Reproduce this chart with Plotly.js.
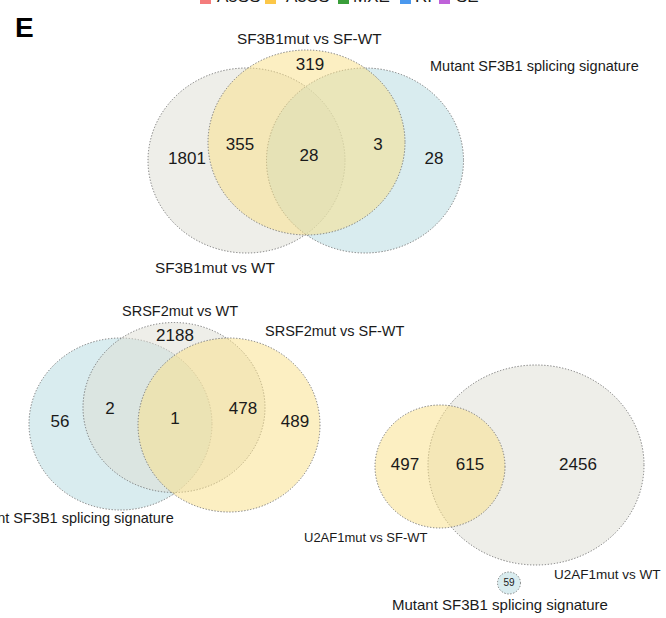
<!DOCTYPE html>
<html>
<head>
<meta charset="utf-8">
<script src="https://cdn.plot.ly/plotly-3.0.1.min.js"></script>
<style>html,body{margin:0;padding:0;background:#fff;}#chart{width:666px;height:618px;}</style>
</head>
<body>
<div id="chart"></div>
<script>
// ---------------- DATA ----------------
const legendLabels = ['A5SS', 'A3SS', 'MXE', 'RI', 'SE'];
const legendColors = ['#F47C7C', '#FCC748', '#3A9E3A', '#4A98EE', '#BF62D9'];

const panelLetter = 'E';

// Panel 1: SF3B1
const sf3b1Sets = ['SF3B1mut vs WT', 'SF3B1mut vs SF-WT', 'Mutant SF3B1 splicing signature'];
const sf3b1Regions = ['WT only', 'WT & SF-WT', 'SF-WT only', 'all three', 'SF-WT & signature', 'signature only'];
const sf3b1Counts = [1801, 355, 319, 28, 3, 28];

// Panel 2: SRSF2
const srsf2Sets = ['Mutant SF3B1 splicing signature', 'SRSF2mut vs WT', 'SRSF2mut vs SF-WT'];
const srsf2Regions = ['signature only', 'signature & WT', 'WT only', 'all three', 'WT & SF-WT', 'SF-WT only'];
const srsf2Counts = [56, 2, 2188, 1, 478, 489];

// Panel 3: U2AF1
const u2af1Sets = ['U2AF1mut vs SF-WT', 'U2AF1mut vs WT', 'Mutant SF3B1 splicing signature'];
const u2af1Regions = ['SF-WT only', 'SF-WT & WT', 'WT only', 'signature only'];
const u2af1Counts = [497, 615, 2456, 59];

// ---------------- GEOMETRY / STYLE (pixel space) ----------------
const FILL = {
  gray: 'rgba(222,222,212,0.5)',
  yellow: 'rgba(250,224,138,0.52)',
  blue: 'rgba(186,220,226,0.55)'
};
const EDGE = 'rgba(110,110,110,0.9)';
const DASH = '1.3px,1.7px';

const panels = [
  {
    sets: sf3b1Sets, counts: sf3b1Counts,
    ellipses: [
      {cx: 246.5, cy: 160.5, rx: 98.5, ry: 92.5, fill: 'gray'},
      {cx: 365, cy: 160.5, rx: 98.5, ry: 92.5, fill: 'blue'},
      {cx: 306.5, cy: 142.5, rx: 98.5, ry: 92.5, fill: 'yellow'}
    ],
    countPos: [[187, 160], [240, 146], [310, 66], [309, 157], [378, 146], [434, 160]],
    countSize: [17, 17, 17, 17, 17, 17],
    labels: [
      {x: 153, y: 267, anchor: 'left', size: 15.3},
      {x: 309, y: 38, anchor: 'center', size: 15.3},
      {x: 428, y: 66, anchor: 'left', size: 14.5}
    ]
  },
  {
    sets: srsf2Sets, counts: srsf2Counts,
    ellipses: [
      {cx: 120.5, cy: 424, rx: 91.5, ry: 86, fill: 'blue'},
      {cx: 174, cy: 407.5, rx: 91, ry: 85, fill: 'gray'},
      {cx: 229, cy: 425, rx: 91, ry: 87, fill: 'yellow'}
    ],
    countPos: [[60, 423], [110, 410], [175, 337], [175, 420], [243, 410], [295, 423]],
    countSize: [17, 17, 17, 17, 17, 17],
    labels: [
      {x: 176, y: 518, anchor: 'right', size: 14.5},
      {x: 180, y: 311, anchor: 'center', size: 14.5},
      {x: 263, y: 331, anchor: 'left', size: 14.5}
    ]
  },
  {
    sets: u2af1Sets, counts: u2af1Counts,
    ellipses: [
      {cx: 536, cy: 465, rx: 108, ry: 100, fill: 'gray'},
      {cx: 440, cy: 466.5, rx: 65, ry: 61.5, fill: 'yellow'},
      {cx: 509, cy: 583, rx: 11.5, ry: 11, fill: 'blue'}
    ],
    countPos: [[405, 466], [470, 466], [578, 466], [509, 583]],
    countSize: [17, 17, 17, 10],
    labels: [
      {x: 430, y: 537, anchor: 'right', size: 13},
      {x: 552, y: 574, anchor: 'left', size: 13.5},
      {x: 500, y: 604, anchor: 'center', size: 15}
    ]
  }
];

const legendGeom = {
  squareX: [200, 265, 338, 400, 439],
  textX: [215, 284, 351, 413, 454],
  size: 11, textYpx: -4
};

const FONT = 'Liberation Sans, Arial, Helvetica, sans-serif';
const H = 618;

// ---------------- BUILD ----------------
const shapes = [];
const annotations = [];
const traces = [];

panels.forEach(p => {
  p.ellipses.forEach(e => {
    shapes.push({
      type: 'circle', xref: 'x', yref: 'y', layer: 'below',
      x0: e.cx - e.rx, x1: e.cx + e.rx, y0: e.cy - e.ry, y1: e.cy + e.ry,
      fillcolor: FILL[e.fill],
      line: {color: EDGE, width: 1, dash: DASH}
    });
  });
  traces.push({
    type: 'scatter', mode: 'text',
    x: p.countPos.map(c => c[0]),
    y: p.countPos.map(c => c[1]),
    text: p.counts.map(String),
    textposition: 'middle center',
    textfont: {family: FONT, size: p.countSize, color: '#1a1a1a'},
    hoverinfo: 'none', showlegend: false, cliponaxis: false
  });
  p.sets.forEach((s, i) => {
    const L = p.labels[i];
    annotations.push({
      xref: 'x', yref: 'y', x: L.x, y: L.y, text: s, showarrow: false,
      xanchor: L.anchor, yanchor: 'middle',
      font: {family: FONT, size: L.size, color: '#1a1a1a'}
    });
  });
});

// Top (cropped) legend
legendLabels.forEach((lab, i) => {
  shapes.push({
    type: 'rect', xref: 'x', yref: 'y', layer: 'above',
    x0: legendGeom.squareX[i], x1: legendGeom.squareX[i] + legendGeom.size,
    y0: -7, y1: 4,
    fillcolor: legendColors[i], line: {width: 0}
  });
  annotations.push({
    xref: 'x', yref: 'paper', x: legendGeom.textX[i], y: 1 - legendGeom.textYpx / H,
    text: lab, showarrow: false, xanchor: 'left', yanchor: 'middle',
    font: {family: FONT, size: 17, color: '#1a1a1a'}
  });
});

// Panel letter
annotations.push({
  xref: 'x', yref: 'y', x: 13, y: 27, text: '<b>' + panelLetter + '</b>',
  showarrow: false, xanchor: 'left', yanchor: 'middle',
  font: {family: FONT, size: 28, color: '#000'}
});

const layout = {
  width: 666, height: 618,
  margin: {l: 0, r: 0, t: 0, b: 0},
  paper_bgcolor: '#ffffff', plot_bgcolor: '#ffffff',
  showlegend: false,
  xaxis: {range: [0, 666], visible: false, fixedrange: true},
  yaxis: {range: [618, 0], visible: false, fixedrange: true},
  shapes: shapes,
  annotations: annotations
};

Plotly.newPlot('chart', traces, layout, {staticPlot: true, displayModeBar: false});
</script>
</body>
</html>
